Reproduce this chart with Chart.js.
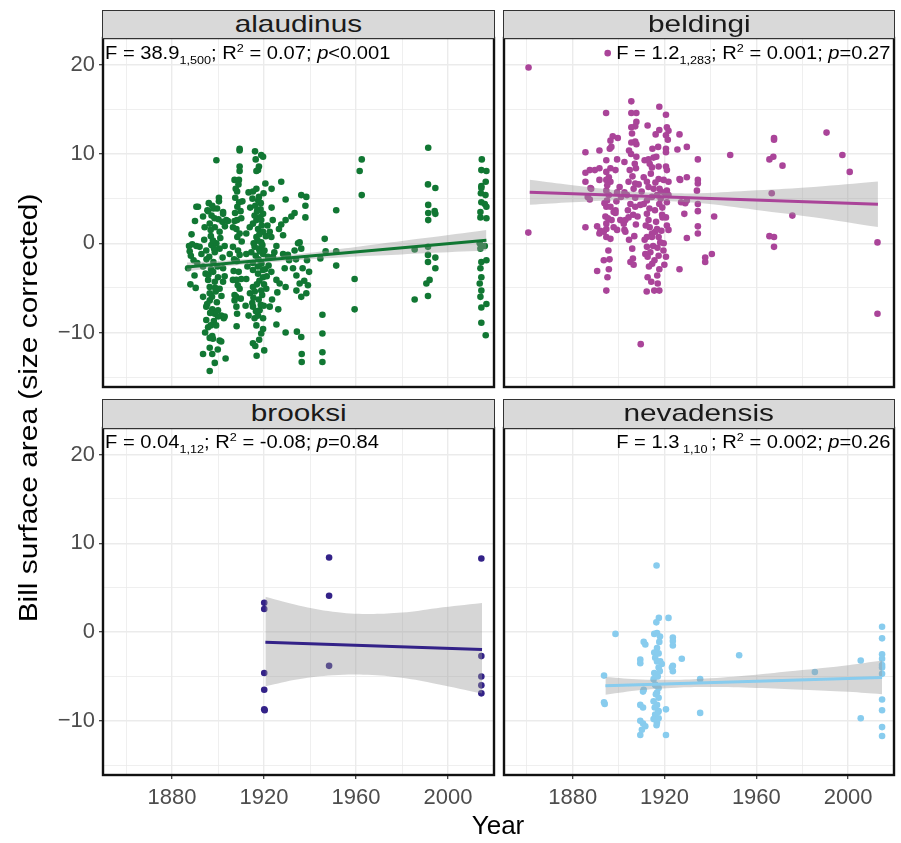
<!DOCTYPE html>
<html>
<head>
<meta charset="utf-8">
<script src="https://cdn.jsdelivr.net/npm/chart.js@4.4.1/dist/chart.umd.min.js"></script>
<style>
  body { margin: 0; background: #fff; font-family: 'Liberation Sans', Arial, sans-serif; }
  #fig { position: relative; width: 901px; height: 843px; overflow: hidden; }
  #fig canvas { position: absolute; }
  .strip {
    position: absolute; box-sizing: border-box; background: #d9d9d9; border: 1px solid #333;
    color: #1a1a1a; font-size: 24px; line-height: 26px; text-align: center;
  }
  .strip span { display: inline-block; transform: scaleX(1.24); }
  .note { position: absolute; z-index: 2; font-size: 17.5px; line-height: 20px; white-space: nowrap; color: #000; }
  .note.l { transform: scaleX(1.15); transform-origin: left center; }
  .note.r { transform: scaleX(1.15); transform-origin: right center; }
  .note sub, .note sup { font-size: 11px; line-height: 0; }
  .title { position: absolute; font-size: 26px; line-height: 30px; text-align: center; color: #000; }
</style>
</head>
<body>
<div id="fig">
  <canvas id="c-alaudinus"></canvas>
  <canvas id="c-beldingi"></canvas>
  <canvas id="c-brooksi"></canvas>
  <canvas id="c-nevadensis"></canvas>

  <div class="strip" style="left:102px; top:10px; width:393px; height:29px;"><span>alaudinus</span></div>
  <div class="strip" style="left:503px; top:10px; width:392px; height:29px;"><span>beldingi</span></div>
  <div class="strip" style="left:102px; top:399px; width:393px; height:30px;"><span>brooksi</span></div>
  <div class="strip" style="left:503px; top:399px; width:392px; height:30px;"><span>nevadensis</span></div>

  <div class="note l" style="left:105px; top:43px;">F = 38.9<sub>1,500</sub>; R<sup>2</sup> = 0.07; <i>p</i>&lt;0.001</div>
  <div class="note r" style="right:11px; top:43px;">F = 1.2<sub>1,283</sub>; R<sup>2</sup> = 0.001; <i>p</i>=0.27</div>
  <div class="note l" style="left:105px; top:432px;">F = 0.04<sub>1,12</sub>; R<sup>2</sup> = -0.08; <i>p</i>=0.84</div>
  <div class="note r" style="right:11px; top:432px;">F = 1.3<sub>&nbsp;1,10&nbsp;</sub>; R<sup>2</sup> = 0.002; <i>p</i>=0.26</div>

  <div class="title" style="left:-272px; top:393px; width:600px; transform:rotate(-90deg) scaleX(1.15);">Bill surface area (size corrected)</div>
  <div class="title" style="left:398px; top:810px; width:200px;">Year</div>
</div>

<script>
// ── Axes ──────────────────────────────────────────────────────────────────
const X_MIN = 1850, X_MAX = 2020;
const Y_MIN = -16.1, Y_MAX = 23;
const X_TICKS = [1880, 1920, 1960, 2000];
const X_GRID = [1860, 1880, 1900, 1920, 1940, 1960, 1980, 2000];
const Y_TICKS = [-10, 0, 10, 20];
const Y_GRID = [-15, -10, -5, 0, 5, 10, 15, 20];

// ── alaudinus ─────────────────────────────────────────────────────────────
const ALAUDINUS = [
  [1899.3,9.3],[1909.4,10.6],[1909.4,10.4],[1916.4,9.4],[1918.8,9.9],[1919.6,9.7],[1917.8,8.6],[1917.4,8.2],
  [1916.7,8.1],[1909.4,8.6],[1909.4,8.1],[1907.2,7.1],[1909.1,7.1],[1920.6,6.7],[1916.7,6.1],[1907.7,6.1],
  [1908.3,5.8],[1927.5,6.9],[1923.3,6.1],[1962.5,9.4],[1961.6,8.1],[1962.5,5.4],[1991.4,10.7],[1991.3,6.6],
  [1994.5,6.2],[2014.7,9.4],[2014.5,8.2],[2016.7,8.1],[2016.4,6.9],[2014.5,6.4],[2014.5,6.2],
  [1890.6,4.1],[1891.3,4.1],[1900.4,5.1],[1900.4,4.7],[1895.4,3.7],[1899.6,3.9],[1902.2,3.5],[1893.5,3.0],
  [1897.2,3.1],[1908.4,4.1],[1910.6,4.7],[1913.3,5.7],[1915.2,5.8],[1917.8,5.2],[1918.6,4.5],[1923.3,4.0],
  [1929.4,4.9],[1936.2,5.4],[1938.4,5.2],[1938.0,4.2],[1938.0,2.9],[1933.3,3.4],[1931.9,3.0],[1929.4,2.6],
  [1927.5,2.1],[1951.4,3.7],[1991.4,4.3],[1991.4,3.4],[1991.4,2.6],[1994.2,3.6],[1994.5,3.3],[2014.3,5.6],
  [2016.3,5.4],[2014.5,4.6],[2016.0,4.4],[2016.7,4.1],[2014.1,3.5],[2016.7,2.8],[2014.1,2.9],[1895.7,3.6],
  [1898.1,3.9],[1896.4,2.2],[1894.2,1.8],[1898.6,1.8],[1900.7,1.3],[1901.9,2.4],[1903.6,2.6],[1902.2,3.3],
  [1904.3,2.5],[1907.2,2.5],[1908.3,2.6],[1910.1,2.8],[1906.5,1.8],[1908.0,1.6],[1909.4,1.1],[1908.4,0.7],
  [1912.3,1.1],[1913.8,1.8],[1915.2,2.2],[1916.7,2.6],[1918.1,2.9],[1919.6,3.3],[1915.9,3.1],[1918.8,2.6],
  [1917.4,1.6],[1919.6,1.3],[1916.7,0.7],[1918.8,0.1],[1922.5,1.3],[1923.2,0.7],[1928.3,0.9],[1925.4,-0.3],
  [1887.4,-0.3],[1888.8,-0.1],[1890.6,-0.3],[1887.7,-0.9],[1889.4,-1.9],[1892.0,-0.4],[1892.8,-1.2],[1894.9,-0.8],
  [1897.1,-0.2],[1898.6,-1.0],[1899.3,0.0],[1900.7,-0.6],[1902.9,-0.3],[1905.1,-1.2],[1906.5,-0.4],[1908.7,-0.8],
  [1909.4,-1.3],[1912.3,-1.2],[1914.5,-1.0],[1915.9,-0.4],[1917.8,-0.6],[1919.6,-1.2],[1921.7,-1.5],[1923.9,-1.5],
  [1928.3,-1.2],[1930.4,-1.3],[1933.3,-0.8],[1934.8,0.0],[1935.5,0.1],[1936.2,-0.6],[1938.7,-1.9],[1946.4,0.5],
  [1944.5,-1.7],[1946.8,-0.9],[1951.4,-0.9],[1951.4,-2.5],[1985.5,-0.7],[1991.3,-0.4],[1991.3,-1.3],[1991.3,-2.1],
  [1994.5,-1.6],[1994.5,-2.8],[2013.8,0.0],[2016.0,-0.3],[2014.1,-0.6],[2016.7,-1.9],[2014.5,-2.1],
  [1887.0,-2.8],[1888.0,-4.6],[1890.3,-5.0],[1893.5,-2.6],[1894.6,-3.4],[1895.7,-4.1],[1896.4,-4.9],[1898.6,-4.3],
  [1900.0,-3.8],[1902.2,-2.8],[1902.9,-3.7],[1902.2,-4.3],[1896.4,-5.6],[1899.0,-5.4],[1900.7,-5.1],[1906.5,-4.1],
  [1908.0,-4.1],[1909.4,-5.1],[1910.1,-4.0],[1912.3,-4.0],[1915.2,-3.0],[1915.2,-4.9],[1917.4,-3.4],[1919.6,-3.8],
  [1918.8,-5.3],[1921.0,-5.1],[1923.2,-3.2],[1925.4,-4.1],[1926.8,-4.5],[1929.0,-2.8],[1929.4,-4.9],[1932.6,-2.8],
  [1934.1,-3.6],[1935.5,-4.5],[1934.1,-5.3],[1936.2,-6.0],[1938.4,-5.6],[1939.1,-4.7],[1939.6,-3.2],[1959.4,-4.0],
  [1990.6,-4.5],[1992.0,-4.1],[2014.1,-2.8],[2014.5,-3.8],[2013.8,-4.5],[2014.5,-5.3],[2014.1,-6.0],
  [1893.5,-6.0],[1894.9,-7.1],[1896.4,-6.4],[1897.5,-7.4],[1898.6,-7.9],[1900.0,-8.2],[1901.4,-8.1],[1902.5,-8.4],
  [1902.9,-8.2],[1900.0,-7.5],[1907.2,-6.4],[1908.0,-7.1],[1908.3,-7.9],[1907.2,-5.8],[1913.3,-8.1],[1915.2,-7.1],
  [1914.9,-6.7],[1918.1,-7.5],[1915.9,-8.4],[1917.4,-8.1],[1919.6,-8.4],[1916.7,-9.2],[1919.6,-9.6],[1918.8,-10.1],
  [1922.5,-7.1],[1925.4,-9.1],[1926.2,-7.4],[1929.4,-10.0],[1934.3,-9.9],[1936.2,-10.5],[1945.4,-8.0],[1945.4,-10.1],
  [1959.4,-7.4],[1985.5,-6.3],[1991.3,-5.9],[2014.5,-7.2],[2016.7,-6.8],[2014.5,-8.9],[2016.4,-10.3],[1894.9,-8.6],
  [1895.7,-9.4],[1896.8,-9.2],[1897.5,-10.4],
  [1896.4,-10.6],[1897.8,-10.7],[1900.7,-10.9],[1901.4,-11.0],[1893.5,-12.4],[1896.4,-11.7],[1897.5,-12.4],[1898.6,-13.4],
  [1896.4,-14.3],[1903.3,-12.9],[1915.2,-11.2],[1916.2,-11.5],[1920.1,-12.0],[1936.4,-12.4],[1936.4,-13.3],[1945.4,-12.2],
  [1945.4,-13.3],
  [1917.5,4.8],[1918.5,3.8],[1917.0,3.6],[1919.0,2.0],[1918.0,1.0],[1917.2,0.3],[1919.3,-0.2],[1918.2,-0.9],
  [1917.6,-1.8],[1918.9,-2.3],[1917.3,-2.6],[1919.5,-3.0],[1918.0,-4.2],[1916.9,-4.6],[1919.2,-5.8],[1917.7,-6.3],
  [1918.6,-6.9],[1916.5,-7.6],[1919.9,-7.0],[1896.0,4.5],[1897.5,4.2],[1898.5,2.8],[1896.9,0.8],[1897.8,0.3],
  [1896.2,-1.5],[1898.0,-2.1],[1897.0,-2.9],[1895.9,-3.5],[1898.8,-5.0],[1897.4,-6.0],[1899.5,-6.6],[1896.6,-7.8],
  [1898.2,-8.7],[1908.9,6.6],[1907.5,5.1],[1909.8,3.6],[1908.2,-2.0],[1909.0,-3.2],[1907.9,-6.0],[1914.0,4.0],
  [1912.8,-2.6],[1913.9,-5.6],[1912.0,-7.0],[1921.5,2.0],[1922.0,-2.5],[1923.5,-6.3],
  [1888.5,1.0],[1889.8,-3.6],[1891.0,-2.2],[1888.2,-1.4],[1890.0,2.5],[1894.0,0.4],[1895.0,-1.8],[1896.8,1.5],
  [1898.3,-0.6],[1899.8,-2.6],[1901.0,0.6],[1902.0,-1.6],[1903.0,1.9],[1901.5,-5.9],[1899.2,-9.2],[1895.3,-6.8],
  [1897.9,-3.2],[1900.2,2.7],[1894.4,-10.0],[1899.9,-11.9],[1907.0,-1.8],[1908.6,-4.7],[1909.9,-6.2],[1906.8,-3.1],
  [1910.3,0.2],[1909.2,4.6],[1907.4,3.4],[1908.1,-9.3],[1915.0,5.0],[1916.2,4.2],[1915.5,0.0],[1916.4,-1.4],
  [1915.1,-2.2],[1916.0,-5.4],[1915.4,-6.1],[1920.2,-0.8],[1920.5,-2.9],[1920.0,-4.6],[1921.2,-3.7],[1920.8,0.8],
  [1919.8,5.6],[1916.1,10.3],[1917.9,-10.8],[1916.8,-12.6],[1923.8,2.6],[1924.5,-1.0],[1925.8,-5.5],[1926.5,1.6],
  [1930.9,-1.9],[1933.9,-1.8],[1936.8,-2.8],[1937.5,-4.2]
];
const ALAUDINUS_FIT = [[1886.5, -2.65], [2016.7, 0.34]];
const ALAUDINUS_BAND_X  = [1886.5, 1900, 1915, 1930, 1950, 1970, 1990, 2016.7];
const ALAUDINUS_BAND_HI = [-2.15, -1.99, -1.70, -1.33, -0.74, -0.08, 0.58, 1.49];
const ALAUDINUS_BAND_LO = [-3.15, -2.69, -2.30, -1.97, -1.64, -1.38, -1.12, -0.81];

// ── beldingi ──────────────────────────────────────────────────────────────
const BELDINGI = [
  [1860.6,1.2],[1860.7,19.7],[1895.2,21.3],[1894.5,14.6],[1905.5,15.9],[1905.5,14.6],[1907.7,14.6],[1907.7,13.6],
  [1907.2,13.1],[1905.5,13.0],[1905.8,12.3],[1905.5,11.3],[1907.7,11.1],[1907.2,11.4],[1912.6,13.2],[1917.7,15.3],
  [1920.6,14.4],[1917.7,12.7],[1921.0,13.0],[1921.7,12.6],[1920.6,12.1],[1921.4,11.6],[1926.5,12.2],[1897.4,12.0],
  [1899.6,11.8],[1896.4,11.5],[1896.1,10.6],[1896.8,10.8],[1891.6,10.4],[1885.5,10.2],[1904.5,10.4],[1905.4,10.0],
  [1907.7,9.7],[1920.6,10.6],[1920.6,10.2],[1925.6,10.5],[1929.7,10.8],[1948.6,9.9],[1965.7,9.4],[1967.4,9.7],
  [1967.7,11.8],[1967.7,11.6],[1990.6,12.4],[1997.5,9.9],[2000.7,8.0],[1971.4,8.7],[1934.5,9.4],[1894.6,9.3],
  [1899.3,9.4],[1902.5,9.1],[1904.8,8.2],[1907.5,8.4],[1911.3,9.3],[1913.0,9.4],[1915.2,9.6],[1916.4,9.7],
  [1913.5,8.9],[1914.5,8.5],[1917.4,8.6],[1920.6,8.6],[1921.0,8.2],[1885.5,7.9],[1887.4,8.2],[1889.6,8.2],
  [1891.6,8.4],[1894.6,8.0],[1896.4,8.4],[1898.6,8.2],[1895.7,7.4],[1894.6,7.1],[1896.4,6.9],[1891.6,7.1],
  [1885.5,6.9],[1887.7,6.2],[1888.0,6.1],[1886.5,5.2],[1887.4,4.9],[1900.4,6.3],[1902.5,5.7],[1901.0,5.2],
  [1899.3,5.7],[1904.3,6.9],[1906.5,6.1],[1907.2,6.7],[1908.7,6.6],[1910.9,7.4],[1912.3,6.9],[1913.0,6.3],
  [1915.2,6.1],[1917.4,7.2],[1919.6,7.1],[1921.7,6.9],[1921.0,5.9],[1917.8,6.1],[1926.5,7.2],[1926.8,7.1],
  [1929.7,7.4],[1934.5,7.1],[1934.5,6.7],[1934.1,5.9],[1894.6,5.9],[1895.7,5.4],[1894.9,4.8],[1894.6,4.1],
  [1896.4,4.1],[1897.8,3.5],[1898.6,3.7],[1907.2,5.1],[1903.6,5.4],[1905.1,4.4],[1907.2,4.1],[1909.4,4.3],
  [1910.9,4.4],[1912.3,4.8],[1914.5,5.2],[1916.7,5.4],[1917.7,4.4],[1921.0,4.6],[1921.7,5.4],[1927.2,4.6],
  [1929.0,4.5],[1929.7,4.8],[1934.5,4.4],[1934.5,3.6],[1928.6,3.3],[1966.7,5.6],[1941.6,3.0],[1975.7,3.1],
  [1885.5,1.8],[1890.6,1.9],[1892.0,1.4],[1891.6,1.1],[1893.5,1.3],[1894.6,2.2],[1894.6,1.6],[1894.6,0.7],
  [1896.4,0.5],[1898.6,3.4],[1897.8,1.8],[1899.3,1.5],[1900.7,2.6],[1902.2,2.2],[1902.9,2.6],[1904.3,2.9],
  [1902.9,1.3],[1902.5,1.5],[1904.5,0.4],[1907.5,2.1],[1912.3,3.3],[1913.0,2.6],[1913.5,1.8],[1914.5,1.1],
  [1912.3,0.7],[1914.5,0.7],[1915.9,1.3],[1916.7,1.6],[1917.4,0.7],[1918.1,0.1],[1919.6,0.0],[1920.6,2.9],
  [1921.0,2.0],[1921.7,1.5],[1919.1,2.9],[1929.7,0.6],[1934.5,1.9],[1934.5,1.1],[1911.3,0.4],[1912.3,-0.4],
  [1911.6,-1.2],[1912.6,-1.5],[1914.6,-2.3],[1917.4,-1.4],[1920.6,-1.5],[1917.7,-2.9],[1926.5,-2.9],[1895.5,-0.8],
  [1893.5,-1.9],[1890.6,-3.1],[1895.7,-2.9],[1906.2,-1.7],[1905.1,-2.1],[1906.5,-2.4],[1912.6,-3.8],[1894.6,-5.3],
  [1915.5,-5.3],[1917.7,-5.3],[1937.7,-1.6],[1937.7,-2.1],[1940.6,-1.2],[1965.7,0.8],[1967.7,0.7],[1967.7,-0.4],
  [2012.8,0.1],[2012.8,-7.9],[1909.6,-11.3],
  [1895.0,6.5],[1894.2,3.0],[1895.3,2.8],[1906.0,7.5],[1907.0,8.9],[1906.3,3.2],[1914.0,7.8],[1916.0,6.8],
  [1918.5,5.8],[1915.8,3.7],[1918.9,3.2],[1916.3,2.4],[1919.5,-0.8],[1915.0,-0.3],[1913.8,-1.0],[1916.8,-3.6],
  [1914.2,-4.3],[1918.3,5.0],
  [1896.0,-1.8],[1895.1,-3.8],[1893.8,4.5],[1896.9,2.6],[1899.0,4.7],[1904.0,3.7],[1906.8,0.8],[1905.9,-0.6],
  [1908.2,3.0],[1910.0,5.8],[1911.8,2.0],[1913.2,-2.6],[1915.6,-1.9],[1916.9,-0.5],[1918.6,1.4],[1919.9,-2.4],
  [1917.2,10.8],[1916.1,12.2],[1914.7,10.6],[1919.0,4.0],[1920.2,5.6],[1913.4,3.9],[1912.2,-5.4],[1917.0,-4.5]
];
const BELDINGI_FIT = [[1861.2, 5.71], [2013.0, 4.37]];
const BELDINGI_BAND_X  = [1861.2, 1880, 1900, 1915, 1935, 1960, 1985, 2013];
const BELDINGI_BAND_HI = [7.11, 6.49, 5.92, 5.68, 5.61, 5.94, 6.32, 6.92];
const BELDINGI_BAND_LO = [4.31, 4.59, 4.82, 4.78, 4.51, 3.74, 2.92, 1.82];

// ── brooksi ───────────────────────────────────────────────────────────────
const BROOKSI = [
  [1920.1,3.3],[1920.1,2.6],[1920.1,-4.6],[1920.1,-6.5],[1920.1,-8.7],[1920.3,-8.8],[1948.3,8.4],
  [1948.3,4.1],[1948.3,-3.8],[2014.5,8.3],[2014.5,-2.7],[2014.5,-5.0],[2014.5,-6.0],[2014.5,-6.9]
];
const BROOKSI_FIT = [[1920.6, -1.13], [2014.8, -1.95]];
const BROOKSI_BAND_X  = [1920.6, 1935, 1950, 1965, 1980, 1995, 2014.8];
const BROOKSI_BAND_HI = [3.98, 3.0, 2.3, 2.05, 2.2, 2.7, 3.27];
const BROOKSI_BAND_LO = [-6.09, -5.3, -4.85, -4.8, -5.15, -5.85, -6.92];

// ── nevadensis ────────────────────────────────────────────────────────────
const NEVADENSIS = [
  [1916.5,7.5],[1917.5,1.6],[1916.4,1.1],[1921.7,1.6],[1898.6,-0.2],[1915.5,-0.2],[1916.7,-0.1],[1910.9,-1.1],
  [1911.6,-1.4],[1917.7,-1.1],[1923.6,-0.6],[1923.6,-1.0],[1923.6,-1.5],[1916.7,-1.8],[1915.5,-2.3],[1917.4,-2.4],
  [1915.9,-2.9],[1918.1,-3.3],[1918.8,-3.6],[1916.7,-3.3],[1909.4,-3.1],[1909.4,-3.5],[1927.5,-3.0],[1952.5,-2.6],
  [1923.6,-3.8],[1923.6,-4.4],[1923.2,-4.0],[1917.4,-4.0],[1915.5,-4.6],[1916.7,-4.8],[1915.2,-5.3],[1915.9,-5.9],
  [1917.4,-6.3],[1916.7,-6.8],[1917.4,-7.4],[1915.2,-7.8],[1916.7,-8.2],[1915.9,-9.3],[1917.4,-8.9],[1915.2,-9.8],
  [1916.7,-10.2],[1917.4,-9.7],[1893.6,-4.9],[1893.6,-7.9],[1893.9,-8.1],[1910.9,-6.5],[1910.6,-6.7],[1909.4,-8.2],
  [1910.6,-8.5],[1935.5,-5.3],[1920.6,-8.7],[1935.5,-9.1],[1909.4,-10.0],[1910.6,-10.3],[1911.6,-10.6],[1910.1,-11.0],
  [1909.4,-11.6],[1920.6,-11.6],[1985.5,-4.5],[2005.5,-3.2],[2005.5,-9.7],[2014.8,0.6],[2014.8,-0.7],[2014.8,-2.5],
  [2014.8,-3.0],[2014.8,-3.7],[2014.8,-4.0],[2014.8,-4.7],[2014.8,-7.6],[2014.8,-8.8],[2014.8,-10.7],[2014.8,-11.7],
  [1917.0,-5.0],[1916.0,-6.0],[1917.9,-4.4],[1916.2,-7.0],[1915.7,-8.5],[1917.2,-9.0],[1916.5,-10.5],[1918.0,-0.5]
];
const NEVADENSIS_FIT = [[1894.2, -6.05], [2014.8, -5.11]];
const NEVADENSIS_BAND_X  = [1894.2, 1910, 1925, 1940, 1960, 1980, 2000, 2014.8];
const NEVADENSIS_BAND_HI = [-5.05, -5.33, -5.36, -5.19, -4.79, -4.28, -3.73, -3.21];
const NEVADENSIS_BAND_LO = [-7.05, -6.53, -6.26, -6.19, -6.29, -6.48, -6.73, -7.01];

// ── Style ─────────────────────────────────────────────────────────────────
const FONT = "'Liberation Sans', Arial, sans-serif";
const GRID = '#ebebeb';
const TICK_TEXT = '#4d4d4d';
const BAND_FILL = 'rgba(153,153,153,0.4)';

// Panel frame drawn on top of everything, like ggplot's panel.border
const framePlugin = {
  id: 'frame',
  afterDraw(chart) {
    const { ctx, chartArea: a } = chart;
    ctx.save();
    ctx.strokeStyle = '#111';
    ctx.lineWidth = 2.4;
    ctx.strokeRect(a.left, a.top, a.right - a.left, a.bottom - a.top);
    ctx.restore();
  },
};

const xy = pts => pts.map(([x, y]) => ({ x, y }));
const zipXY = (xs, ys) => xs.map((x, i) => ({ x, y: ys[i] }));

// fixed axis sizes and no label overhang, so the plot area lands exactly on `area`
function fixSize(s, w, h) {
  if (w != null) s.width = w;
  if (h != null) s.height = h;
  s.paddingTop = s.paddingBottom = s.paddingLeft = s.paddingRight = 0;
}

function panel(id, area, color, pts, fit, bandX, bandLo, bandHi, showX, showY) {
  const yW = showY ? 103 : 10;
  const xH = showX ? 52 : 8;
  const padTop = 10, padRight = 8;
  const w = yW + (area.r - area.l) + padRight;
  const h = padTop + (area.b - area.t) + xH;
  const canvas = document.getElementById(id);
  canvas.width = w; canvas.height = h;
  canvas.style.left = (area.l - yW) + 'px';
  canvas.style.top = (area.t - padTop) + 'px';
  canvas.style.width = w + 'px';
  canvas.style.height = h + 'px';

  return new Chart(canvas.getContext('2d'), {
    type: 'scatter',
    data: {
      datasets: [
        { // fitted line
          type: 'line', data: xy(fit), borderColor: color, borderWidth: 3,
          pointRadius: 0, fill: false, order: 0,
        },
        { // confidence band upper edge, filled down to the lower edge
          type: 'line', data: zipXY(bandX, bandHi), borderWidth: 0, borderColor: 'rgba(0,0,0,0)',
          backgroundColor: BAND_FILL, pointRadius: 0, fill: '+1', tension: 0.4, order: 1,
        },
        {
          type: 'line', data: zipXY(bandX, bandLo), borderWidth: 0, borderColor: 'rgba(0,0,0,0)',
          pointRadius: 0, fill: false, tension: 0.4, order: 1,
        },
        { // observations
          data: xy(pts), backgroundColor: color, borderWidth: 0, pointRadius: 3.3, order: 2,
        },
      ],
    },
    options: {
      responsive: false,
      animation: false,
      events: [],
      layout: { padding: { top: padTop, right: padRight, left: 0, bottom: 0 } },
      plugins: { legend: { display: false }, tooltip: { enabled: false } },
      scales: {
        x: {
          type: 'linear', min: X_MIN, max: X_MAX,
          afterBuildTicks: s => { s.ticks = X_GRID.map(v => ({ value: v })); },
          afterFit: s => fixSize(s, null, xH),
          border: { display: false },
          grid: {
            color: GRID,
            lineWidth: c => X_TICKS.includes(c.tick && c.tick.value) ? 1.4 : 0.8,
            drawTicks: showX,
            tickLength: 4,
            tickWidth: 1.2,
            tickColor: c => X_TICKS.includes(c.tick && c.tick.value) ? '#333' : 'rgba(0,0,0,0)',
          },
          ticks: {
            display: showX, color: TICK_TEXT, padding: 6, maxRotation: 0, autoSkip: false,
            font: { family: FONT, size: 22 },
            callback: v => X_TICKS.includes(v) ? String(v) : '',
          },
        },
        y: {
          type: 'linear', min: Y_MIN, max: Y_MAX,
          afterBuildTicks: s => { s.ticks = Y_GRID.map(v => ({ value: v })); },
          afterFit: s => fixSize(s, yW, null),
          border: { display: false },
          grid: {
            color: GRID,
            lineWidth: c => Y_TICKS.includes(c.tick && c.tick.value) ? 1.4 : 0.8,
            drawTicks: showY,
            tickLength: 4,
            tickWidth: 1.2,
            tickColor: c => Y_TICKS.includes(c.tick && c.tick.value) ? '#333' : 'rgba(0,0,0,0)',
          },
          ticks: {
            display: showY, color: TICK_TEXT, padding: 4, autoSkip: false,
            font: { family: FONT, size: 22 },
            callback: v => Y_TICKS.includes(v) ? String(v).replace('-', '\u2212') : '',
          },
        },
      },
    },
    plugins: [framePlugin],
  });
}

panel('c-alaudinus', { l: 103, t: 38, r: 494, b: 387 }, '#117733',
  ALAUDINUS, ALAUDINUS_FIT, ALAUDINUS_BAND_X, ALAUDINUS_BAND_LO, ALAUDINUS_BAND_HI, false, true);
panel('c-beldingi', { l: 504, t: 38, r: 894, b: 387 }, '#AA4499',
  BELDINGI, BELDINGI_FIT, BELDINGI_BAND_X, BELDINGI_BAND_LO, BELDINGI_BAND_HI, false, false);
panel('c-brooksi', { l: 103, t: 428, r: 494, b: 775 }, '#332288',
  BROOKSI, BROOKSI_FIT, BROOKSI_BAND_X, BROOKSI_BAND_LO, BROOKSI_BAND_HI, true, true);
panel('c-nevadensis', { l: 504, t: 428, r: 894, b: 775 }, '#88CCEE',
  NEVADENSIS, NEVADENSIS_FIT, NEVADENSIS_BAND_X, NEVADENSIS_BAND_LO, NEVADENSIS_BAND_HI, true, false);
</script>
</body>
</html>
